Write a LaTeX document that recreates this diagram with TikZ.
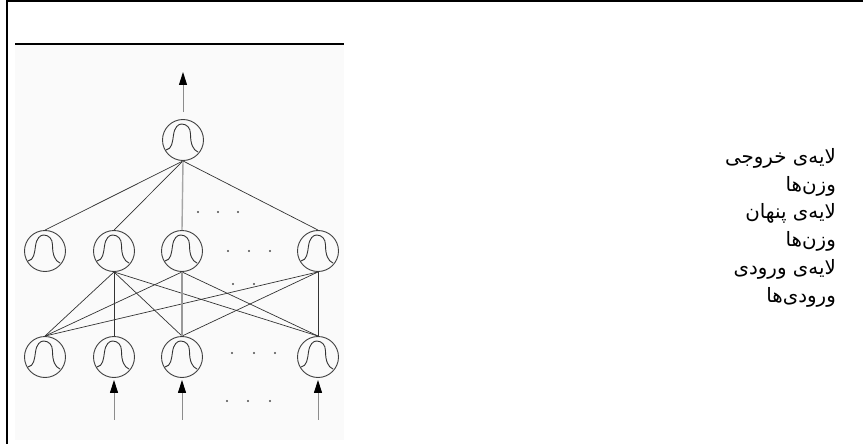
\documentclass[tikz,border=0pt]{standalone}
\usepackage{fontspec}
\usepackage{tikz}
\usetikzlibrary{arrows.meta}
\newfontfamily\arabicfont[Script=Arabic]{DejaVu Sans}
\TeXXeTstate=1

\begin{document}
\begin{tikzpicture}[x=1pt,y=-1pt,
  neuron/.style={circle,draw=black!75,line width=0.9pt,minimum size=41pt,inner sep=0pt},
  bell/.style={draw=black!80,line width=0.9pt},
  wire/.style={draw=black!80,line width=0.7pt},
  feed/.style={draw=black!45,line width=1pt,-{Triangle[width=8pt,length=13pt,color=black]}},
  label/.style={anchor=east,font=\arabicfont\fontsize{19.8}{22}\selectfont,inner sep=0pt}]
\useasboundingbox (0,0) rectangle (863,444);
%frame
\draw[line width=2pt] (7,444) -- (7,1.5) -- (863,1.5);
\fill[black!2] (15,45) rectangle (344,440);
\draw[line width=1.8pt] (15,44) -- (344,44);
%output layer
\node[neuron] (out) at (183,140) {};
\coordinate (top) at (183,72);
\draw[feed] ([yshift=7pt]out.north) -- (top);
%hidden layer
\node[neuron] (h1) at (45,251) {};
\node[neuron] (h2) at (114,251) {};
\node[neuron] (h3) at (182,251) {};
\node[neuron] (h4) at (318,251) {};
%input layer
\node[neuron] (i1) at (45,357) {};
\node[neuron] (i2) at (114,357) {};
\node[neuron] (i3) at (182,357) {};
\node[neuron] (i4) at (318,357) {};
%bells
\foreach \n in {out,h1,h2,h3,h4,i1,i2,i3,i4}{
  \begin{scope}[shift={(\n.center)}]
  \draw[bell] (-17,10) .. controls (-11,9) and (-10.5,2) .. (-9.5,-5)
    .. controls (-8.5,-13) and (-4.5,-16) .. (-1.5,-16)
    .. controls (4,-16) and (7.5,-12) .. (7.5,-6)
    .. controls (7.5,4) and (10,10) .. (15,12);
  \end{scope}
}
%weights output-hidden
\draw[wire] (out.south) -- (h1.north);
\draw[wire] (out.south) -- (h2.north);
\draw[draw=black!35,line width=1.4pt] (out.south) -- (h3.north);
\draw[wire] (out.south) -- (h4.north);
%weights hidden-input
\foreach \h/\i in {h2/i1,h2/i2,h2/i3,h2/i4,h4/i1,h4/i3,h4/i4}
  \draw[wire] (\h.south) -- (\i.north);
\draw[wire] (h3.south) -- (i1.north);
\draw[wire] (h3.south) -- (i4.north);
\draw[draw=black!40,line width=1.4pt] (h3.south) -- (i3.north);
%inputs
\foreach \i in {i2,i3,i4}{
  \coordinate (\i-in) at ([yshift=-42pt]\i.south);
  \draw[feed,shorten >=2pt] (\i-in) -- (\i.south);
}
%dots
\foreach \x in {198,218,238} \fill[black!70] (\x,212) circle (1.1);
\foreach \x in {228,249,270} \fill[black!70] (\x,251) circle (1.1);
\foreach \x in {233,254} \fill[black!70] (\x,284) circle (1.1);
\foreach \x in {232,254,275} \fill[black!70] (\x,353) circle (1.1);
\foreach \x in {227,248,270} \fill[black!70] (\x,401) circle (1.1);
%labels
\node[label] (l1) at (836,158) {\beginR لایه^^^^200cی خروجی\endR};
\node[label] (l2) at (836,186) {\beginR وزن^^^^200cها\endR};
\node[label] (l3) at (836,213) {\beginR لایه^^^^200cی پنهان\endR};
\node[label] (l4) at (836,241) {\beginR وزن^^^^200cها\endR};
\node[label] (l5) at (836,269) {\beginR لایه^^^^200cی ورودی\endR};
\node[label] (l6) at (836,297) {\beginR ورودی^^^^200cها\endR};
\end{tikzpicture}
\end{document}
